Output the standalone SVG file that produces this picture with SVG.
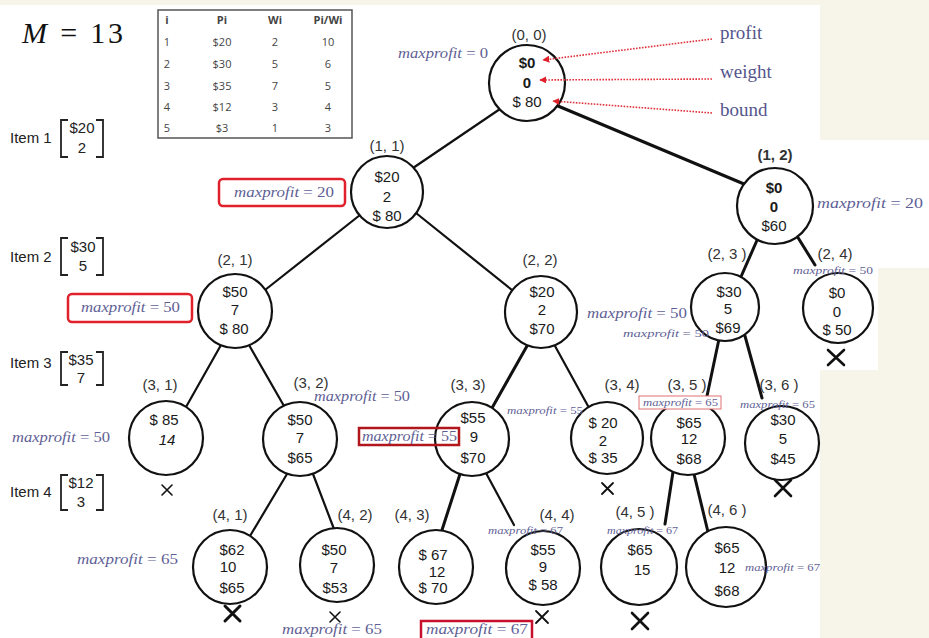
<svg xmlns="http://www.w3.org/2000/svg" width="929" height="638" viewBox="0 0 929 638">
<style>
.bg{fill:#f7f5e9}
.nd circle{fill:#ffffff;stroke:#111;stroke-width:2.2}
.nd text{font-family:"Liberation Sans",Arial,sans-serif;font-size:15px;fill:#1a1a1a;text-anchor:middle}
.nd text.lb{fill:#333;font-size:15px}
.e line{stroke:#111;stroke-width:2.2;stroke-linecap:round}
.e line.t{stroke-width:3}
.mp{font-family:"Liberation Serif","Times New Roman",serif;font-size:14.5px;fill:#5f5f96}
.sm{font-size:10.5px}
.it{font-style:italic}
.x path{stroke:#111;fill:none;stroke-linecap:round}
.tb text{font-family:"Open Sans","Liberation Sans",sans-serif;font-size:11px;fill:#444;text-anchor:middle}
.itm text{font-family:"Liberation Sans",Arial,sans-serif;font-size:15px;fill:#222}
.itm path{stroke:#222;stroke-width:1.8;fill:none}
.ar line{stroke:#e0303a;stroke-width:1.6;stroke-dasharray:1.6 1.4}
.al{font-family:"Liberation Serif","Times New Roman",serif;font-size:19px;fill:#55558c}
</style>
<defs>
<marker id="rh" viewBox="0 0 10 10" refX="9" refY="5" markerWidth="7" markerHeight="7" orient="auto" markerUnits="userSpaceOnUse">
<path d="M0,0 L10,5 L0,10 z" fill="#e0202a"/>
</marker>
</defs>
<rect class="bg" x="0" y="0" width="929" height="638"/>
<path d="M0,5 H820 V140 H929 V268 H878 V370 H820 V638 H0 Z" fill="#ffffff"/>

<g id="header">
<text x="22" y="43" font-family="Liberation Serif,serif" font-size="30" fill="#111" textLength="101" lengthAdjust="spacing"><tspan font-style="italic">M</tspan> = 13</text>
</g>

<g id="table" class="tb">
<rect x="158" y="10" width="194" height="128" fill="#fff" stroke="#555" stroke-width="1.5"/>
<text x="167" y="24" font-weight="bold">i</text><text x="222" y="24" font-weight="bold">Pi</text><text x="275" y="24" font-weight="bold">Wi</text><text x="328" y="24" font-weight="bold">Pi/Wi</text>
<text x="167" y="46">1</text><text x="222" y="46">$20</text><text x="275" y="46">2</text><text x="328" y="46">10</text>
<text x="167" y="68">2</text><text x="222" y="68">$30</text><text x="275" y="68">5</text><text x="328" y="68">6</text>
<text x="167" y="90">3</text><text x="222" y="90">$35</text><text x="275" y="90">7</text><text x="328" y="90">5</text>
<text x="167" y="111">4</text><text x="222" y="111">$12</text><text x="275" y="111">3</text><text x="328" y="111">4</text>
<text x="167" y="132">5</text><text x="222" y="132">$3</text><text x="275" y="132">1</text><text x="328" y="132">3</text>
</g>

<g id="items" class="itm">
<text x="10" y="143">Item 1</text><path d="M68,120 h-7 v37 h7 M96,120 h7 v37 h-7"/>
<text x="82" y="133" text-anchor="middle" font-size="13">$20</text><text x="82" y="153" text-anchor="middle">2</text>
<text x="10" y="262">Item 2</text><path d="M68,238 h-7 v37 h7 M96,238 h7 v37 h-7"/>
<text x="83" y="252" text-anchor="middle" font-size="14">$30</text><text x="83" y="271" text-anchor="middle">5</text>
<text x="10" y="368">Item 3</text><path d="M68,352 h-7 v33 h7 M96,352 h7 v33 h-7"/>
<text x="81" y="365" text-anchor="middle" font-size="13">$35</text><text x="81" y="383" text-anchor="middle">7</text>
<text x="10" y="497">Item 4</text><path d="M68,475 h-7 v35 h7 M96,475 h7 v35 h-7"/>
<text x="81" y="488" text-anchor="middle" font-size="13">$12</text><text x="81" y="507" text-anchor="middle">3</text>
</g>

<g id="connectors" class="e">
<line x1="500" y1="109" x2="413" y2="168"/>
<line class="t" x1="558" y1="106" x2="744" y2="184"/>
<line x1="360" y1="215" x2="265" y2="290"/>
<line x1="416" y1="213" x2="512" y2="290"/>
<line class="t" x1="758" y1="238" x2="740" y2="279"/>
<line class="t" x1="797" y1="236" x2="815" y2="265"/>
<line x1="221" y1="345" x2="186" y2="407"/>
<line x1="249" y1="345" x2="284" y2="406"/>
<line class="t" x1="527" y1="346" x2="492" y2="408"/>
<line x1="555" y1="346" x2="588" y2="406"/>
<line class="t" x1="719" y1="339" x2="707" y2="396"/>
<line class="t" x1="745" y1="336" x2="762" y2="398"/>
<line x1="287" y1="474" x2="250" y2="536"/>
<line x1="313" y1="474" x2="334" y2="529"/>
<line class="t" x1="460" y1="474" x2="442" y2="530"/>
<line x1="486" y1="473" x2="514" y2="525"/>
<line class="t" x1="673" y1="472" x2="665" y2="524"/>
<line class="t" x1="694" y1="474" x2="708" y2="532"/>
</g>

<g id="n00" class="nd"><circle cx="527" cy="83" r="38"/><text class="lb" x="529" y="40">(0, 0)</text><text x="527" y="68" font-weight="bold">$0</text><text x="527" y="88" font-weight="bold">0</text><text x="527" y="107">$ 80</text></g>
<g id="n11" class="nd"><circle cx="387" cy="192" r="36"/><text class="lb" x="387" y="151">(1, 1)</text><text x="387" y="182">$20</text><text x="387" y="202">2</text><text x="387" y="221">$ 80</text></g>
<g id="n12" class="nd"><circle cx="775" cy="206" r="38"/><text class="lb" x="775" y="160" font-weight="bold">(1, 2)</text><text x="774" y="193" font-weight="bold">$0</text><text x="774" y="212" font-weight="bold">0</text><text x="774" y="231">$60</text></g>
<g id="n21" class="nd"><circle cx="235" cy="311" r="37"/><text class="lb" x="235" y="265">(2, 1)</text><text x="235" y="297">$50</text><text x="235" y="315">7</text><text x="234" y="334">$ 80</text></g>
<g id="n22" class="nd"><circle cx="541" cy="312" r="36"/><text class="lb" x="540" y="265">(2, 2)</text><text x="542" y="297">$20</text><text x="542" y="315">2</text><text x="542" y="334">$70</text></g>
<g id="n23" class="nd"><circle cx="725" cy="307" r="34"/><text class="lb" x="727" y="259" font-size="13">(2, 3 )</text><text x="729" y="297" font-size="14">$30</text><text x="728" y="314" font-size="14">5</text><text x="728" y="333" font-size="14">$69</text></g>
<g id="n24" class="nd"><circle cx="838" cy="308" r="35"/><text class="lb" x="835" y="259" font-size="13">(2, 4)</text><text x="837" y="298">$0</text><text x="837" y="317">0</text><text x="837" y="335" font-size="14">$ 50</text></g>
<g id="n31" class="nd"><circle cx="166" cy="438" r="37"/><text class="lb" x="160" y="390">(3, 1)</text><text x="164" y="425">$ 85</text><text x="167" y="445" font-style="italic">14</text></g>
<g id="n32" class="nd"><circle cx="300" cy="439" r="37"/><text class="lb" x="311" y="388">(3, 2)</text><text x="300" y="425">$50</text><text x="300" y="443">7</text><text x="300" y="463">$65</text></g>
<g id="n33" class="nd"><circle cx="472" cy="439" r="37"/><text class="lb" x="468" y="390">(3, 3)</text><text x="473" y="423">$55</text><text x="474" y="442">9</text><text x="473" y="463">$70</text></g>
<g id="n34" class="nd"><circle cx="607" cy="438" r="36"/><text class="lb" x="622" y="390">(3, 4)</text><text x="603" y="428" font-size="14">$ 20</text><text x="603" y="446" font-size="13">2</text><text x="603" y="463" font-size="14">$ 35</text></g>
<g id="n35" class="nd"><circle cx="688" cy="438" r="37"/><text class="lb" x="687" y="390">(3, 5 )</text><text x="689" y="428">$65</text><text x="689" y="444" font-size="14">12</text><text x="689" y="464">$68</text></g>
<g id="n36" class="nd"><circle cx="782" cy="443" r="37"/><text class="lb" x="779" y="390">(3, 6 )</text><text x="783" y="425">$30</text><text x="783" y="444">5</text><text x="783" y="464">$45</text></g>
<g id="n41" class="nd"><circle cx="230" cy="567" r="37"/><text class="lb" x="230" y="520">(4, 1)</text><text x="232" y="555">$62</text><text x="228" y="572" font-size="13">10</text><text x="232" y="593">$65</text></g>
<g id="n42" class="nd"><circle cx="337" cy="565" r="37"/><text class="lb" x="355" y="520">(4, 2)</text><text x="334" y="555" font-size="14">$50</text><text x="334" y="573">7</text><text x="335" y="593">$53</text></g>
<g id="n43" class="nd"><circle cx="436" cy="567" r="37"/><text class="lb" x="412" y="520">(4, 3)</text><text x="433" y="560" font-size="14">$ 67</text><text x="437" y="577" font-size="14">12</text><text x="433" y="593" font-size="14">$ 70</text></g>
<g id="n44" class="nd"><circle cx="543" cy="568" r="37"/><text class="lb" x="557" y="520">(4, 4)</text><text x="543" y="555">$55</text><text x="543" y="572">9</text><text x="543" y="590">$ 58</text></g>
<g id="n45" class="nd"><circle cx="639" cy="567" r="38"/><text class="lb" x="635" y="517">(4, 5 )</text><text x="640" y="555">$65</text><text x="642" y="575">15</text></g>
<g id="n46" class="nd"><circle cx="726" cy="567" r="40"/><text class="lb" x="727" y="515">(4, 6 )</text><text x="727" y="553">$65</text><text x="727" y="573">12</text><text x="727" y="596">$68</text></g>

<g id="pointers" class="ar">
<line x1="712" y1="39" x2="543" y2="60" marker-end="url(#rh)"/>
<line x1="712" y1="79" x2="540" y2="80" marker-end="url(#rh)"/>
<line x1="712" y1="113" x2="553" y2="101" marker-end="url(#rh)"/>
<text class="al" x="720" y="39">profit</text>
<text class="al" x="720" y="78">weight</text>
<text class="al" x="720" y="116">bound</text>
</g>

<g id="maxprofit">
<text class="mp" x="398" y="58" textLength="90" lengthAdjust="spacingAndGlyphs"><tspan class="it">maxprofit</tspan> = 0</text>
<rect x="219" y="179" width="126" height="27" rx="4" fill="none" stroke="#e0202a" stroke-width="2.5"/>
<text class="mp" x="234" y="197" textLength="100" lengthAdjust="spacingAndGlyphs"><tspan class="it">maxprofit</tspan> = 20</text>
<text class="mp" x="817" y="208" textLength="106" lengthAdjust="spacingAndGlyphs"><tspan class="it">maxprofit</tspan> = 20</text>
<rect x="68" y="294" width="124" height="28" rx="4" fill="none" stroke="#e0202a" stroke-width="2.5"/>
<text class="mp" x="81" y="312" textLength="99" lengthAdjust="spacingAndGlyphs"><tspan class="it">maxprofit</tspan> = 50</text>
<text class="mp" x="587" y="318" textLength="100" lengthAdjust="spacingAndGlyphs"><tspan class="it">maxprofit</tspan> = 50</text>
<text class="mp sm" x="623" y="337" textLength="86" lengthAdjust="spacingAndGlyphs"><tspan class="it">maxprofit</tspan> = 50</text>
<text class="mp sm" x="793" y="274" textLength="80" lengthAdjust="spacingAndGlyphs"><tspan class="it">maxprofit</tspan> = 50</text>
<text class="mp" x="12" y="442" textLength="98" lengthAdjust="spacingAndGlyphs"><tspan class="it">maxprofit</tspan> = 50</text>
<text class="mp" x="314" y="401" textLength="96" lengthAdjust="spacingAndGlyphs"><tspan class="it">maxprofit</tspan> = 50</text>
<rect x="359" y="428" width="100" height="17" fill="none" stroke="#b0161c" stroke-width="2.5"/>
<text class="mp" x="362" y="441" textLength="95" lengthAdjust="spacingAndGlyphs"><tspan class="it">maxprofit</tspan> = 55</text>
<text class="mp sm" x="507" y="414" textLength="76" lengthAdjust="spacingAndGlyphs"><tspan class="it">maxprofit</tspan> = 55</text>
<rect x="639" y="396" width="82" height="13" fill="#fff" stroke="#e07070" stroke-width="1"/>
<text class="mp sm" x="643" y="406" textLength="75" lengthAdjust="spacingAndGlyphs"><tspan class="it">maxprofit</tspan> = 65</text>
<text class="mp sm" x="740" y="408" textLength="75" lengthAdjust="spacingAndGlyphs"><tspan class="it">maxprofit</tspan> = 65</text>
<text class="mp" x="77" y="564" textLength="101" lengthAdjust="spacingAndGlyphs"><tspan class="it">maxprofit</tspan> = 65</text>
<text class="mp" x="282" y="634" textLength="100" lengthAdjust="spacingAndGlyphs"><tspan class="it">maxprofit</tspan> = 65</text>
<text class="mp sm" x="488" y="534" textLength="75" lengthAdjust="spacingAndGlyphs"><tspan class="it">maxprofit</tspan> = 67</text>
<text class="mp sm" x="607" y="534" textLength="71" lengthAdjust="spacingAndGlyphs"><tspan class="it">maxprofit</tspan> = 67</text>
<text class="mp sm" x="745" y="571" textLength="75" lengthAdjust="spacingAndGlyphs"><tspan class="it">maxprofit</tspan> = 67</text>
<rect x="421" y="621" width="111" height="20" fill="#fff" stroke="#c8102e" stroke-width="2.5"/>
<text class="mp" x="426" y="634" textLength="102" lengthAdjust="spacingAndGlyphs"><tspan class="it">maxprofit</tspan> = 67</text>
</g>

<g id="pruned" class="x">
<path d="M162,485 l10,10 M172,485 l-10,10" stroke-width="1.6"/>
<path d="M602,483 l11,11 M613,483 l-11,11" stroke-width="1.8"/>
<path d="M775,480 l16,16 M791,480 l-16,16" stroke-width="2.6"/>
<path d="M828,350 l16,15 M844,350 l-16,15" stroke-width="2.6"/>
<path d="M225,606 l15,15 M240,606 l-15,15" stroke-width="3"/>
<path d="M330,612 l10,10 M340,612 l-10,10" stroke-width="1.6"/>
<path d="M536,611 l12,12 M548,611 l-12,12" stroke-width="1.8"/>
<path d="M632,613 l16,16 M648,613 l-16,16" stroke-width="2.6"/>
</g>
</svg>
